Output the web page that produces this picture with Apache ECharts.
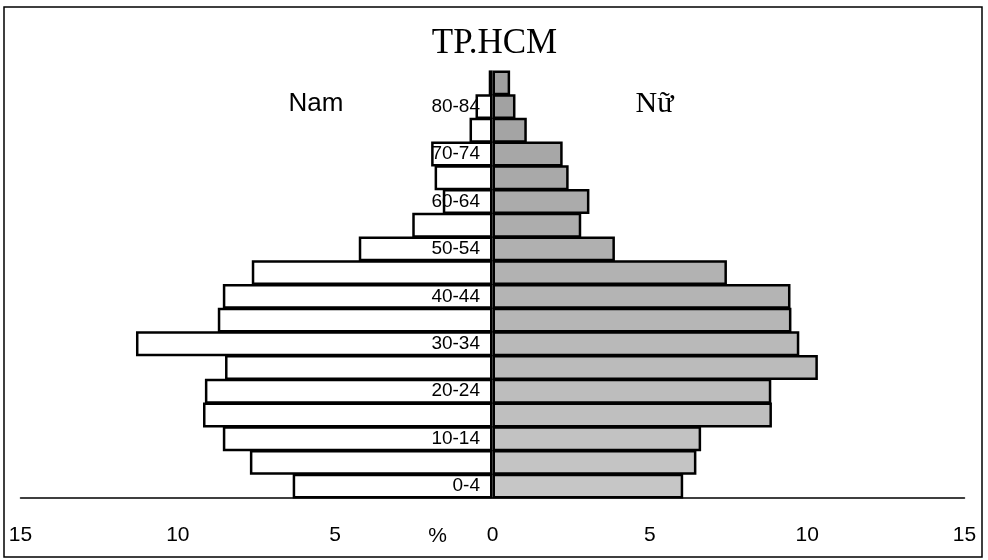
<!DOCTYPE html>
<html>
<head>
<meta charset="utf-8">
<script src="https://cdn.jsdelivr.net/npm/echarts@6/dist/echarts.min.js"></script>
<style>html,body{margin:0;padding:0;background:#fff}#c{width:988px;height:560px}</style>
</head>
<body>
<div id="c"></div>
<script>
const ageGroups = ['0-4','5-9','10-14','15-19','20-24','25-29','30-34','35-39','40-44','45-49','50-54','55-59','60-64','65-69','70-74','75-79','80-84','85+'];
const maleValues = [6.35, 7.71, 8.57, 9.20, 9.14, 8.50, 11.33, 8.73, 8.57, 7.65, 4.25, 2.55, 1.58, 1.84, 1.95, 0.73, 0.54, 0.12];
const femaleValues = [6.06, 6.48, 6.63, 8.88, 8.86, 10.34, 9.75, 9.50, 9.47, 7.45, 3.89, 2.82, 3.08, 2.42, 2.23, 1.09, 0.73, 0.56];
const xTicks = [-15, -10, -5, 0, 5, 10, 15];
const titleText = 'TP.HCM';
const maleLabel = 'Nam';
const femaleLabel = 'Nữ';
const unitLabel = '%';

const chart = echarts.init(document.getElementById('c'), null, {renderer: 'canvas'});
const n = ageGroups.length;
function femaleColor(i) {
  const l = Math.round(198 - (i / (n - 1)) * 38);
  return 'rgb(' + l + ',' + l + ',' + l + ')';
}
chart.setOption({
  animation: false,
  backgroundColor: '#fff',
  grid: {left: 20.5, right: 23.5, top: 71, bottom: 62, containLabel: false},
  xAxis: {
    type: 'value', min: xTicks[0], max: xTicks[xTicks.length - 1], interval: 5,
    splitLine: {show: false},
    axisTick: {show: false},
    axisLine: {show: true, onZero: false, lineStyle: {color: '#000', width: 1.5}},
    axisLabel: {
      formatter: v => String(Math.abs(v)),
      color: '#000', fontFamily: 'Liberation Sans', fontSize: 21, margin: 27
    }
  },
  yAxis: {
    type: 'category', data: ageGroups, z: 10,
    axisLine: {show: false}, axisTick: {show: false}, splitLine: {show: false},
    axisLabel: {
      interval: 1, margin: -459.5, align: 'right',
      color: '#000', fontFamily: 'Liberation Sans', fontSize: 19
    }
  },
  series: [
    {
      name: maleLabel, type: 'bar', barWidth: '105%', barGap: '-100%', barCategoryGap: 0,
      data: maleValues.map(v => -v),
      itemStyle: {color: '#fff', borderColor: '#000', borderWidth: 2.5}
    },
    {
      name: femaleLabel, type: 'bar', barWidth: '105%', barGap: '-100%', barCategoryGap: 0,
      data: femaleValues.map((v, i) => ({value: v, itemStyle: {color: femaleColor(i)}})),
      itemStyle: {borderColor: '#000', borderWidth: 2.5}
    }
  ],
  graphic: [
    {type: 'rect', shape: {x: 4, y: 7, width: 978, height: 550}, style: {fill: 'none', stroke: '#000', lineWidth: 1.5}, silent: true},
    {type: 'text', x: 494.5, y: 44, style: {text: titleText, fill: '#000', font: '35px "Liberation Serif"', textAlign: 'center', textVerticalAlign: 'middle'}},
    {type: 'text', x: 316, y: 104, style: {text: maleLabel, fill: '#000', font: '26px "Liberation Sans"', textAlign: 'center', textVerticalAlign: 'middle'}},
    {type: 'text', x: 654.5, y: 104, style: {text: femaleLabel, fill: '#000', font: '30px "Liberation Serif"', textAlign: 'center', textVerticalAlign: 'middle'}},
    {type: 'text', x: 437.5, y: 536, style: {text: unitLabel, fill: '#000', font: '21px "Liberation Sans"', textAlign: 'center', textVerticalAlign: 'middle'}}
  ]
});
</script>
</body>
</html>
